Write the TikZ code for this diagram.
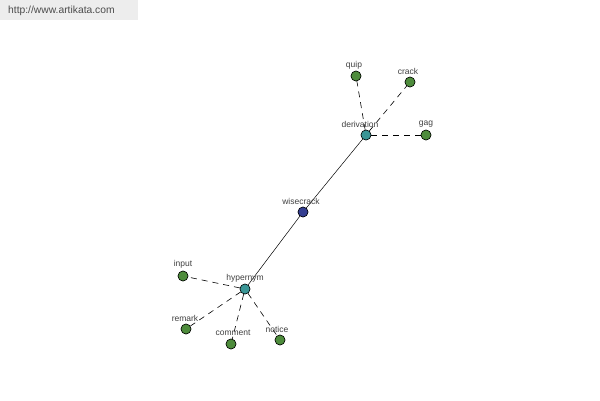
\documentclass[tikz,border=0pt]{standalone}
\usepackage{fontspec}
\setmainfont{Liberation Sans}
\begin{document}
\begin{tikzpicture}[x=1pt,y=-1pt,
  leaf/.style={circle,draw=black,line width=0.5pt,fill=leafgreen,minimum size=10pt,inner sep=0pt},
  hub/.style={circle,draw=black,line width=0.5pt,fill=hubteal,minimum size=10pt,inner sep=0pt},
  root/.style={circle,draw=black,line width=0.5pt,fill=rootblue,minimum size=10pt,inner sep=0pt},
  lbl/.style={font=\fontsize{8.5}{9}\selectfont,text=black!75,inner sep=0pt},
  dash line/.style={draw=black,line width=0.6pt,dash pattern=on 6pt off 5pt},
  solid line/.style={draw=black,line width=0.5pt}]
\definecolor{leafgreen}{RGB}{78,140,60}
\definecolor{hubteal}{RGB}{58,150,150}
\definecolor{rootblue}{RGB}{52,62,145}
\useasboundingbox (0,0) rectangle (600,400);
\fill[white] (0,0) rectangle (600,400);
\fill[black!7] (0,0) rectangle (138,20);
\node[font=\fontsize{10.3}{12}\selectfont,text=black!70,anchor=west,inner sep=0pt] (url) at (8,11) {http://www.artikata.com};
% nodes
\node[hub] (derivation) at (366,135) {};
\node[leaf] (quip) at (356,76) {};
\node[leaf] (crack) at (410,82) {};
\node[leaf] (gag) at (426,135) {};
\node[root] (wisecrack) at (303,212) {};
\node[hub] (hypernym) at (245,289) {};
\node[leaf] (input) at (183,276) {};
\node[leaf] (remark) at (186,329) {};
\node[leaf] (comment) at (231,344) {};
\node[leaf] (notice) at (280,340) {};
% connectors
\draw[solid line] (wisecrack) -- (derivation);
\draw[solid line] (wisecrack) -- (hypernym);
\draw[dash line] (derivation) -- (quip);
\draw[dash line] (derivation) -- (crack);
\draw[dash line] (derivation) -- (gag);
\draw[dash line] (hypernym) -- (input);
\draw[dash line] (hypernym) -- (remark);
\draw[dash line] (hypernym) -- (comment);
\draw[dash line] (hypernym) -- (notice);
% redraw nodes on top
\foreach \n/\s in {derivation/hub,quip/leaf,crack/leaf,gag/leaf,wisecrack/root,hypernym/hub,input/leaf,remark/leaf,comment/leaf,notice/leaf}
  \node[\s] at (\n) {};
% labels
\node[lbl] (lderivation) at (360,124) {derivation};
\node[lbl] (lquip) at (354,65) {quip};
\node[lbl] (lcrack) at (408,71) {crack};
\node[lbl] (lgag) at (426,124) {gag};
\node[lbl] (lwisecrack) at (301,201) {wisecrack};
\node[lbl] (lhypernym) at (245,278) {hypernym};
\node[lbl] (linput) at (183,264) {input};
\node[lbl] (lremark) at (185,318) {remark};
\node[lbl] (lcomment) at (233,333) {comment};
\node[lbl] (lnotice) at (277,329) {notice};
\end{tikzpicture}
\end{document}
